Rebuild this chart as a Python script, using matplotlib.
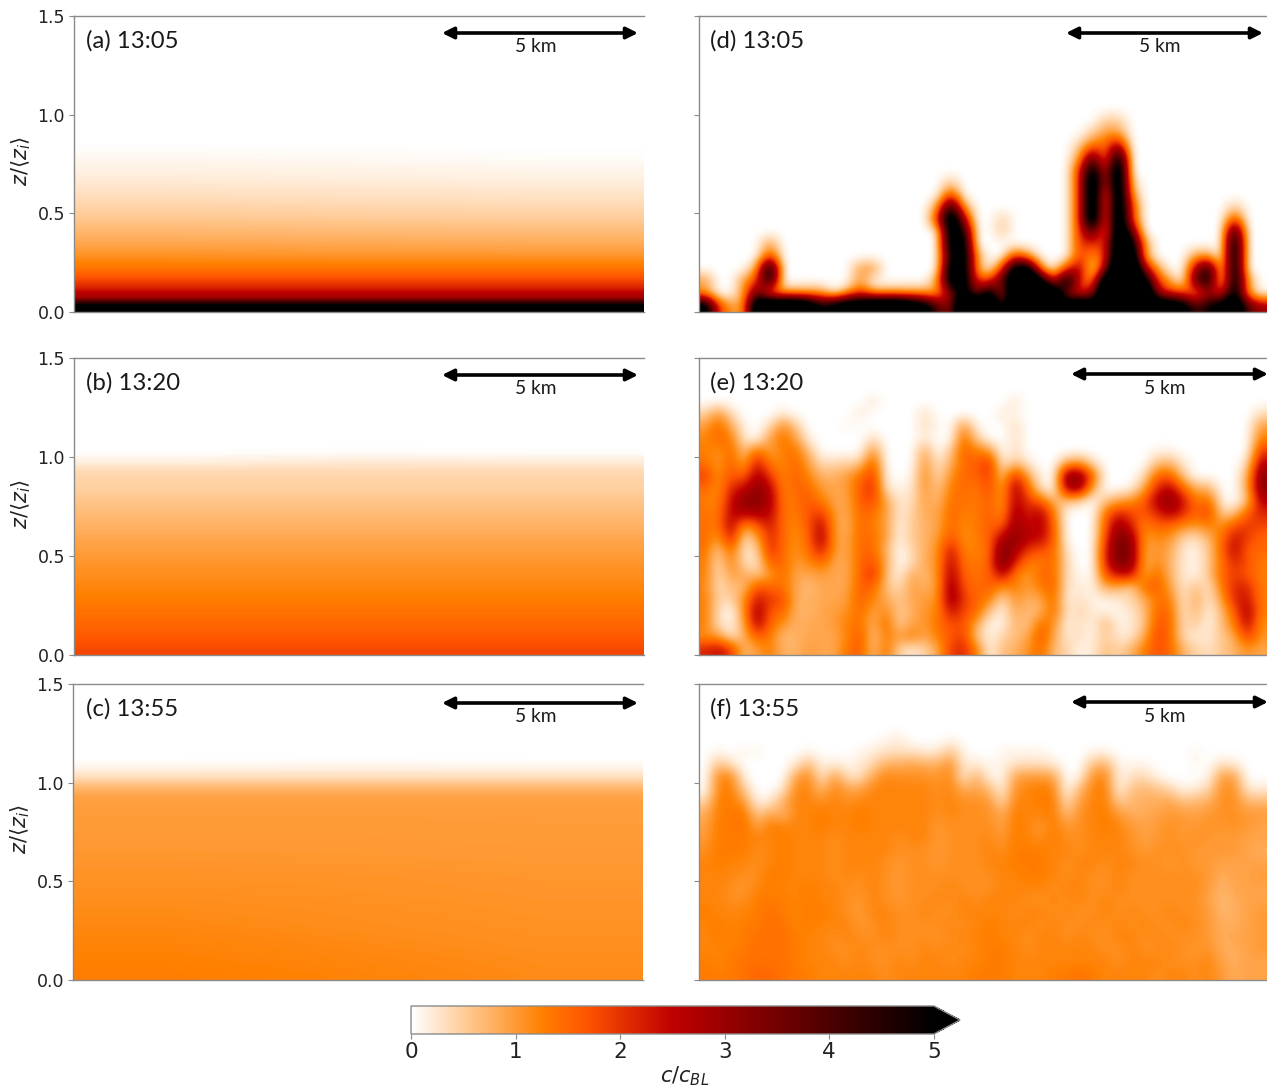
import numpy as np
import matplotlib
matplotlib.use("Agg")
import matplotlib.pyplot as plt
from matplotlib.cm import ScalarMappable
from matplotlib.colors import Normalize
from matplotlib.patches import FancyArrowPatch

W, H = 1267, 1088
Z_TICKS = [0.0, 0.5, 1.0, 1.5]
CBAR_TICKS = [0, 1, 2, 3, 4, 5]
LABELS = ["(a) 13:05", "(b) 13:20", "(c) 13:55", "(d) 13:05", "(e) 13:20", "(f) 13:55"]

# Left column: c/c_BL profiles at rows 0.05 apart in z/<z_i>, at three x stations
profile_a_left = [5.6, 2.9, 2.15, 1.7, 1.35, 1.12, .95, .8, .68, .55, .45, .36, .27, .2, .14, .09, .04, 0, 0, 0, 0, 0, 0, 0, 0, 0, 0, 0, 0, 0]
profile_a_mid = [5.6, 2.9, 2.15, 1.7, 1.35, 1.1, .92, .78, .65, .52, .42, .33, .25, .18, .12, .07, .03, 0, 0, 0, 0, 0, 0, 0, 0, 0, 0, 0, 0, 0]
profile_a_right = [5.6, 2.9, 2.15, 1.7, 1.35, 1.1, .9, .76, .63, .5, .4, .31, .23, .16, .1, .05, .02, 0, 0, 0, 0, 0, 0, 0, 0, 0, 0, 0, 0, 0]
profile_b_left = [1.8, 1.68, 1.56, 1.46, 1.38, 1.3, 1.22, 1.15, 1.09, 1.03, .96, .89, .81, .74, .66, .58, .5, .44, .38, .16, .02, 0, 0, 0, 0, 0, 0, 0, 0, 0]
profile_b_mid = [1.8, 1.68, 1.56, 1.46, 1.38, 1.3, 1.22, 1.15, 1.09, 1.03, .96, .89, .81, .74, .66, .58, .5, .44, .38, .22, .04, 0, 0, 0, 0, 0, 0, 0, 0, 0]
profile_b_right = [1.8, 1.68, 1.56, 1.46, 1.38, 1.3, 1.22, 1.15, 1.09, 1.03, .96, .89, .81, .74, .66, .58, .5, .44, .38, .2, .03, 0, 0, 0, 0, 0, 0, 0, 0, 0]
profile_c_left = [1.28, 1.26, 1.24, 1.22, 1.2, 1.17, 1.15, 1.13, 1.11, 1.09, 1.07, 1.05, 1.03, 1.01, 1.0, .98, .98, .96, .93, .72, .36, .12, 0, 0, 0, 0, 0, 0, 0, 0]
profile_c_mid = [1.22, 1.2, 1.18, 1.16, 1.14, 1.12, 1.11, 1.1, 1.08, 1.07, 1.06, 1.04, 1.02, 1.0, 1.0, .98, .98, .96, .93, .72, .36, .14, .02, 0, 0, 0, 0, 0, 0, 0]
profile_c_right = [1.14, 1.13, 1.12, 1.1, 1.09, 1.08, 1.07, 1.06, 1.05, 1.04, 1.03, 1.02, 1.0, 1.0, .98, .98, .97, .96, .93, .72, .36, .12, 0, 0, 0, 0, 0, 0, 0, 0]

# Right column: c/c_BL read on a coarse lattice, bottom row first, 0.0625 apart in z/<z_i>
field_d = [
 [6,2,1,1,7,8,8,8,7,5, 6,7,7,8,8,8,7,6,4,3, 8,8,8,4,8,8,8,8,6,8, 6,8,8,8,8,7,7,6,4,5, 6,7,4,3],
 [1,0,0,1,4,1,1,1,1,1, 0,1,2,1,1,1,1,1,1,3, 6,3,6,2,8,8,8,7,3,2, 3,8,8,8,8,3,2,2,1,3, 2,6,1,0],
 [1,0,0,1,2,5,0,0,0,0, 0,0,1,0,0,0,0,0,1,6, 6,2,2,4,7,8,6,2,6,2, 1,7,8,8,6,2,1,0,4,5, 0,6,1,0],
 [0,0,0,0,1,6,0,0,0,0, 0,0,1,1,0,0,0,0,0,6, 6,1,0,2,6,6,1,0,2,3, 0,3,8,8,3,1,0,0,3,5, 0,6,0,0],
 [0,0,0,0,0,2,0,0,0,0, 0,0,0,0,0,0,0,0,0,5, 6,1,0,0,2,1,0,0,0,2, 1,2,7,7,1,0,0,0,1,1, 0,6,0,0],
 [0,0,0,0,0,1,0,0,0,0, 0,0,0,0,0,0,0,0,0,6, 6,0,0,0,0,0,0,0,0,2, 2,2,7,6,1,0,0,0,0,0, 0,6,0,0],
 [0,0,0,0,0,0,0,0,0,0, 0,0,0,0,0,0,0,0,0,6, 5,0,0,.5,0,0,0,0,0,2, 4,1,7,4,0,0,0,0,0,0, 0,5,0,0],
 [0,0,0,0,0,0,0,0,0,0, 0,0,0,0,0,0,0,0,2,7, 3,0,0,.5,0,0,0,0,0,2, 7,1,7,2,0,0,0,0,0,0, 0,2,0,0],
 [0,0,0,0,0,0,0,0,0,0, 0,0,0,0,0,0,0,0,1,5, 1,0,0,0,0,0,0,0,0,2, 7,1,7,2,0,0,0,0,0,0, 0,.5,0,0],
 [0,0,0,0,0,0,0,0,0,0, 0,0,0,0,0,0,0,0,0,2, 0,0,0,0,0,0,0,0,0,2, 7,1,7,1,0,0,0,0,0,0, 0,0,0,0],
 [0,0,0,0,0,0,0,0,0,0, 0,0,0,0,0,0,0,0,0,.5, 0,0,0,0,0,0,0,0,0,2, 7,2,7,.5,0,0,0,0,0,0, 0,0,0,0],
 [0,0,0,0,0,0,0,0,0,0, 0,0,0,0,0,0,0,0,0,0, 0,0,0,0,0,0,0,0,0,2, 6,2,7,0,0,0,0,0,0,0, 0,0,0,0],
 [0,0,0,0,0,0,0,0,0,0, 0,0,0,0,0,0,0,0,0,0, 0,0,0,0,0,0,0,0,0,1, 4,1,6,0,0,0,0,0,0,0, 0,0,0,0],
 [0,0,0,0,0,0,0,0,0,0, 0,0,0,0,0,0,0,0,0,0, 0,0,0,0,0,0,0,0,0,.5, 1.5,1.5,3,0,0,0,0,0,0,0, 0,0,0,0],
 [0,0,0,0,0,0,0,0,0,0, 0,0,0,0,0,0,0,0,0,0, 0,0,0,0,0,0,0,0,0,0, .5,1,1,0,0,0,0,0,0,0, 0,0,0,0],
 [0,0,0,0,0,0,0,0,0,0, 0,0,0,0,0,0,0,0,0,0, 0,0,0,0,0,0,0,0,0,0, 0,.5,.5,0,0,0,0,0,0,0, 0,0,0,0],
]
# tenths of c/c_BL
field_e = [
 [20,23,18,6,9,12,7,7,9,8, 8,13,15,6,13,4,2,4,8,18, 20,12,1,6,7,10,14,6,4,1, 2,6,4,7,12,16,14,7,4,3, 5,7,10,8],
 [10,9,2,7,15,12,6,7,8,8, 8,11,16,5,12,9,12,8,12,15, 18,5,1,4,6,8,16,8,2,3, 1,5,2,2,8,17,14,3,2,2, 5,8,18,10],
 [12,3,1,8,25,14,10,7,8,8, 9,12,13,7,14,4,9,9,13,16, 16,8,1,1,7,5,14,10,1,3, 1,7,1,2,5,16,14,3,5,1, 6,12,24,10],
 [12,3,0,10,27,15,14,7,7,8, 9,10,14,8,11,5,7,10,11,22, 17,14,5,1,8,6,7,14,2,4, 2,1,1,2,6,14,14,2,7,1, 6,15,26,12],
 [12,4,4,10,22,18,17,7,7,8, 8,9,15,11,8,5,8,9,10,28, 18,14,12,3,10,7,8,14,1,3, 1,1,2,4,7,13,12,2,8,2, 9,20,22,12],
 [11,3,6,6,16,14,13,8,6,8, 8,8,15,14,6,3,9,7,9,28, 16,13,15,10,12,9,12,15,2,2, 1,8,7,4,14,15,9,2,6,2, 12,20,20,12],
 [12,3,9,8,5,9,14,8,8,9, 8,8,14,20,6,1,8,6,10,26, 14,13,14,24,12,9,14,14,3,1, 0,16,22,22,8,14,7,2,1,5, 14,18,15,12],
 [12,3,12,3,2,15,14,9,11,14, 8,8,14,16,8,0,3,8,10,24, 13,12,14,34,20,12,12,14,3,0, 0,20,32,30,7,11,7,2,1,5, 13,20,16,12],
 [13,5,14,2,4,20,13,10,13,22, 9,8,14,14,7,0,4,7,10,22, 11,12,13,32,26,18,16,14,2,0, 0,20,33,30,8,10,8,2,1,5, 14,24,14,14],
 [14,9,22,3,8,20,14,10,14,26, 9,8,14,13,9,1,5,7,9,16, 10,12,14,25,30,24,24,15,0,0, 0,17,32,28,9,11,10,4,3,7, 13,22,18,14],
 [13,12,25,10,15,22,13,11,15,24, 9,7,14,12,9,1,5,7,8,14, 11,12,15,14,28,22,25,14,0,0, 0,15,28,20,11,15,14,11,10,12, 10,16,18,17],
 [13,12,24,25,26,24,13,12,16,18, 9,8,14,13,9,2,4,8,8,14, 12,12,15,10,27,20,25,12,0,0, 0,13,20,17,15,20,25,20,14,18, 4,5,15,20],
 [12,11,22,30,30,26,12,13,15,12, 8,8,15,17,8,2,3,9,6,13, 13,12,15,9,25,18,14,6,6,4, 0,5,8,10,15,25,30,22,12,14, 1,0,5,25],
 [14,10,20,22,30,24,11,14,14,9, 8,9,15,20,2,1,2,10,5,12, 14,12,17,8,26,14,2,0,26,28, 8,0,0,1,8,20,24,14,7,7, 0,0,8,30],
 [18,10,16,14,26,18,11,15,11,7, 7,9,13,18,1,0,1,11,3,10, 14,14,18,5,20,8,1,0,30,30, 14,0,0,0,3,14,15,5,0,0, 0,0,7,30],
 [13,9,15,8,22,12,11,14,9,3, 4,4,5,16,0,0,0,10,2,7, 14,14,20,1,6,2,0,0,8,10, 3,0,0,0,0,6,7,2,0,0, 0,0,3,25],
 [12,10,14,5,14,8,12,13,6,0, 0,0,0,10,0,0,0,8,0,5, 15,12,10,0,3,0,0,0,0,0, 0,0,0,0,0,1,1,0,0,0, 0,0,0,18],
 [11,14,12,2,0,9,13,9,1,0, 0,0,0,3,0,0,0,2,0,0, 14,5,0,0,3,0,0,0,0,0, 0,0,0,0,0,0,0,0,0,0, 0,0,0,12],
 [9,14,8,1,0,3,11,5,0,0, 0,1,0,0,0,0,0,3,1,0, 10,1,0,0,3,0,0,0,0,0, 0,0,0,0,0,0,0,0,0,0, 0,0,0,9],
 [4,10,3,0,0,0,2,0,0,0, 0,0,2,0,0,0,0,3,0,0, 0,0,0,2,1,0,0,0,0,0, 0,0,0,0,0,0,0,0,0,0, 0,0,0,3],
 [0,0,0,0,0,0,0,0,0,0, 0,0,0,2,0,0,0,0,0,0, 0,0,0,0,2,0,0,0,0,0, 0,0,0,0,0,0,0,0,0,0, 0,0,0,0],
]
# tenths of c/c_BL
field_f = [
 [13,13,13,14,15,15,14,13,13,12, 12,12,12,12,11,12,12,12,12,12, 12,13,13,13,12,12,12,13,13,14, 13,12,12,12,12,11,12,12,11,12, 10,8,9,9],
 [13,12,13,14,14,14,14,13,12,12, 12,11,12,11,11,12,11,12,12,11, 12,12,13,13,12,12,12,12,12,12, 12,12,11,12,12,12,11,11,11,12, 9,8,9,9],
 [12,12,13,13,14,14,14,13,12,12, 11,11,12,11,11,11,11,12,11,12, 11,12,13,13,12,11,12,12,12,12, 12,11,11,12,11,11,12,11,10,11, 8,8,9,10],
 [12,13,12,13,14,14,14,13,12,12, 11,12,11,11,12,11,11,11,11,11, 12,12,13,12,12,11,12,12,11,12, 11,11,12,12,11,12,11,11,11,10, 8,9,9,10],
 [12,13,12,13,13,14,14,12,13,12, 12,12,10,11,12,11,11,11,11,12, 11,12,13,12,12,12,11,12,11,11, 12,11,12,11,12,11,11,12,11,10, 8,8,9,10],
 [13,12,12,12,13,14,13,12,13,13, 12,11,10,12,12,11,11,12,11,11, 12,12,12,12,11,12,12,11,12,11, 11,12,11,12,11,11,12,11,11,10, 7,8,9,10],
 [12,12,11,11,13,13,13,12,13,12, 12,11,10,12,11,10,11,11,12,11, 12,11,12,12,12,11,11,12,11,12, 11,12,11,11,11,11,11,11,11,9, 7,8,9,9],
 [12,12,11,10,12,13,12,12,13,12, 12,11,11,12,11,10,11,11,11,12, 11,11,11,12,12,12,12,11,12,12, 11,11,12,11,11,11,11,11,11,10, 7,9,9,9],
 [12,12,12,11,11,13,13,12,12,12, 11,12,11,12,11,10,11,11,11,11, 11,11,11,12,12,13,13,12,11,12, 11,11,12,11,11,11,11,11,11,10, 8,9,9,10],
 [12,13,12,12,11,12,13,12,12,12, 11,12,12,12,11,10,11,11,10,11, 11,11,12,12,13,13,13,12,11,12, 12,11,12,12,11,11,10,11,10,10, 9,9,9,9],
 [11,13,13,13,11,12,13,12,12,12, 11,12,12,12,12,11,11,11,10,11, 11,11,12,11,13,13,13,12,12,11, 12,12,12,11,10,11,11,11,10,10, 10,10,9,8],
 [10,13,13,13,12,12,13,12,12,12, 11,12,12,12,12,11,12,12,10,11, 11,11,12,10,13,12,11,13,11,11, 12,12,12,11,9,10,11,10,11,10, 10,10,9,9],
 [9,13,13,14,9,13,12,12,12,13, 12,12,13,12,12,12,12,12,10,11, 11,11,11,9,13,12,10,13,10,11, 12,13,12,10,9,10,11,10,10,11, 10,11,10,9],
 [8,13,13,14,5,9,7,12,12,13, 12,12,13,12,12,12,12,12,11,12, 11,11,11,8,13,12,12,13,6,11, 12,13,10,8,8,9,10,10,9,10, 11,11,10,10],
 [4,13,13,10,1,2,8,12,12,11, 12,11,12,12,12,12,12,12,11,12, 11,11,10,4,12,12,13,13,3,10, 12,13,5,7,8,8,9,6,7,8, 11,11,7,7],
 [0,12,13,5,0,0,2,12,12,7, 12,9,9,12,12,12,12,12,11,12, 8,9,7,1,11,12,13,12,0,7, 12,13,1,6,7,6,4,1,2,4, 11,11,2,2],
 [0,12,12,1,0,0,0,9,12,2, 10,3,3,9,12,11,11,11,10,12, 2,8,1,1,9,10,10,9,0,1, 11,12,1,3,4,1,0,0,0,1, 10,9,0,0],
 [0,6,3,0,0,0,0,2,7,1, 2,1,2,4,8,8,9,8,8,11, 2,2,1,1,3,3,3,2,0,0, 6,8,1,1,1,0,0,0,1,0, 3,2,0,0],
 [0,1,0,1,1,0,0,0,1,0, 0,0,1,2,3,3,3,2,2,6, 1,0,0,1,1,1,1,0,0,0, 1,1,0,0,0,0,0,0,1,0, 0,0,0,0],
 [0,0,0,0,0,0,0,0,0,0, 0,0,0,0,1,2,0,0,0,1, 0,0,0,0,0,0,0,0,0,0, 0,0,0,0,0,0,0,0,0,0, 0,0,0,0],
]

plt.rcParams["font.family"] = "DejaVu Sans"
fig = plt.figure(figsize=(W / 100, H / 100), dpi=100)
CMAP = plt.get_cmap("gist_heat_r")
NORM = Normalize(0, 5)
GREY = "#8a8a8a"
INK = "#222222"


def px_axes(x0, y0, x1, y1):
    return fig.add_axes([x0 / W, 1 - y1 / H, (x1 - x0) / W, (y1 - y0) / H])


def lattice(rows, scale, nz):
    arr = np.array(rows, dtype=float) * scale
    return np.vstack([arr, np.zeros((nz - arr.shape[0], arr.shape[1]))])


def draw(ax, data, interp):
    ax.imshow(data, origin="lower", extent=[0, 1, 0, 1.5], aspect="auto",
              cmap=CMAP, norm=NORM, interpolation=interp)
    ax.set_xlim(0, 1)
    ax.set_ylim(0, 1.5)
    ax.set_xticks([])
    ax.set_yticks(Z_TICKS)
    ax.tick_params(axis="y", color=GREY, length=3.5, width=0.8, labelsize=12.5, labelcolor=INK, pad=3)
    for s in ax.spines.values():
        s.set_color(GREY)
        s.set_linewidth(1.0)
    ax.spines["right"].set_visible(False)


left_data = [
    np.array([profile_a_left, profile_a_mid, profile_a_right]).T,
    np.array([profile_b_left, profile_b_mid, profile_b_right]).T,
    np.array([profile_c_left, profile_c_mid, profile_c_right]).T,
]
right_data = [lattice(field_d, 1.0, 24), lattice(field_e, 0.108, 24), lattice(field_f, 0.1, 24)]

left_boxes = [(74, 16, 644, 312), (74, 358, 644, 655), (73, 684, 643, 980)]
right_boxes = [(699, 16, 1267, 312), (699, 358, 1267, 655), (699, 684, 1267, 980)]
left_arrows = [(442, 638, 33), (442, 638, 375), (442, 638, 703)]
right_arrows = [(1066, 1263, 33), (1071, 1268, 374), (1071, 1268, 702)]
label_y = [41, 383, 709]
km_y = [47, 389, 717]


def annotate_panel(label, lab_x, lab_y, arrow, k_y):
    fig.text(lab_x / W, 1 - lab_y / H, label, family="Lato", fontsize=17.2, color="#1a1a1a", va="center", ha="left")
    x0, x1, y = arrow
    fig.add_artist(FancyArrowPatch(
        (x0 / W, 1 - y / H), (x1 / W, 1 - y / H), transform=fig.transFigure,
        arrowstyle="<|-|>", mutation_scale=17, lw=2.6, color="black", shrinkA=0, shrinkB=0))
    fig.text(((x0 + x1) / 2 - 4.5) / W, 1 - k_y / H, "5 km", family="Lato", fontsize=13.8, color="#1a1a1a", va="center", ha="center")


for i in range(3):
    ax = px_axes(*left_boxes[i])
    draw(ax, left_data[i], "bilinear")
    ax.set_ylabel(r"$z/\langle z_i \rangle$", fontsize=15, color=INK)
    ax.yaxis.set_label_coords(-0.072, 0.51)
    annotate_panel(LABELS[i], 86, label_y[i], left_arrows[i], km_y[i])

    ax = px_axes(*right_boxes[i])
    draw(ax, right_data[i], "bicubic")
    ax.set_yticklabels([])
    annotate_panel(LABELS[i + 3], 710, label_y[i], right_arrows[i], km_y[i])

cax = px_axes(411, 1006, 960, 1034)
cb = fig.colorbar(ScalarMappable(norm=NORM, cmap=CMAP), cax=cax, orientation="horizontal",
                  extend="max", extendfrac=0.05, ticks=CBAR_TICKS)
cb.outline.set_edgecolor(GREY)
cb.outline.set_linewidth(1.0)
cb.ax.tick_params(labelsize=15.5, color=GREY, length=3.5, width=0.8, labelcolor=INK, pad=2)
cb.set_label(r"$c/c_{BL}$", fontsize=15, color=INK)
cb.ax.xaxis.set_label_coords(0.524, -1.1)

fig.savefig("out.png", dpi=100)
